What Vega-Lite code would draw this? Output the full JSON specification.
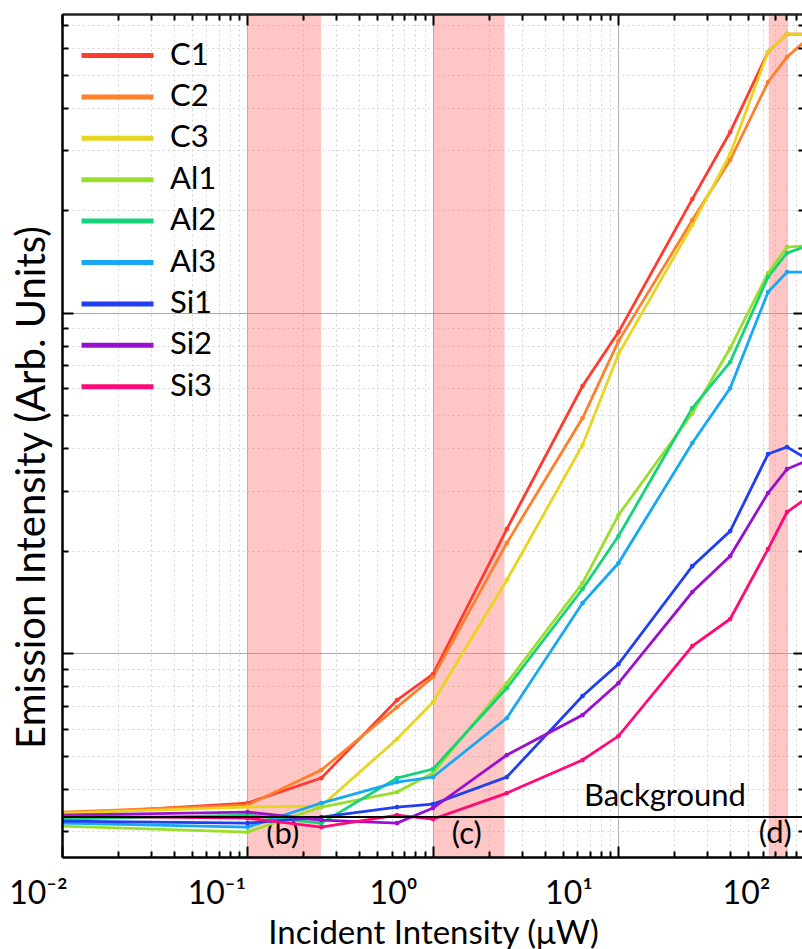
{
  "$schema": "https://vega.github.io/schema/vega-lite/v6.json",
  "width": 742,
  "height": 843,
  "autosize": {"type": "none"},
  "padding": {"left": 62, "top": 14, "right": 0, "bottom": 92},
  "background": "white",
  "config": {
    "view": {"stroke": null},
    "font": "Lato",
    "text": {"font": "Lato"}
  },
  "datasets": {
    "bands": [
      {"x1": 0.1, "x2": 0.249, "xc": 0.155, "yc": 0.292, "lab": "(b)"},
      {"x1": 1, "x2": 2.43, "xc": 1.52, "yc": 0.292, "lab": "(c)"},
      {"x1": 64.5, "x2": 82, "xc": 70, "yc": 0.295, "lab": "(d)"}
    ],
    "bg": [
      {"x1": 0.01, "x2": 100, "y": 0.3299, "xt": 17.8, "yt": 0.356, "lab": "Background"}
    ],
    "series": [
      {"s": "C1", "x": 0.01, "y": 0.3366}, {"s": "C1", "x": 0.1, "y": 0.3627}, {"s": "C1", "x": 0.25, "y": 0.4295}, {"s": "C1", "x": 0.64, "y": 0.7278}, {"s": "C1", "x": 1, "y": 0.8676}, {"s": "C1", "x": 2.5, "y": 2.313}, {"s": "C1", "x": 6.4, "y": 6.083}, {"s": "C1", "x": 10, "y": 8.763}, {"s": "C1", "x": 25, "y": 21.54}, {"s": "C1", "x": 40, "y": 33.89}, {"s": "C1", "x": 64, "y": 58.24}, {"s": "C1", "x": 81, "y": 65.75}, {"s": "C1", "x": 100, "y": 65.75},
      {"s": "C2", "x": 0.01, "y": 0.3412}, {"s": "C2", "x": 0.1, "y": 0.3578}, {"s": "C2", "x": 0.25, "y": 0.4533}, {"s": "C2", "x": 0.64, "y": 0.694}, {"s": "C2", "x": 1, "y": 0.85}, {"s": "C2", "x": 2.5, "y": 2.104}, {"s": "C2", "x": 6.4, "y": 4.899}, {"s": "C2", "x": 10, "y": 8.247}, {"s": "C2", "x": 25, "y": 18.69}, {"s": "C2", "x": 40, "y": 28.05}, {"s": "C2", "x": 64, "y": 47.53}, {"s": "C2", "x": 81, "y": 56.3}, {"s": "C2", "x": 100, "y": 62.29},
      {"s": "C3", "x": 0.01, "y": 0.3389}, {"s": "C3", "x": 0.1, "y": 0.353}, {"s": "C3", "x": 0.25, "y": 0.3554}, {"s": "C3", "x": 0.64, "y": 0.559}, {"s": "C3", "x": 1, "y": 0.718}, {"s": "C3", "x": 2.5, "y": 1.638}, {"s": "C3", "x": 6.4, "y": 4.083}, {"s": "C3", "x": 10, "y": 7.552}, {"s": "C3", "x": 25, "y": 18.07}, {"s": "C3", "x": 40, "y": 29.21}, {"s": "C3", "x": 64, "y": 58.24}, {"s": "C3", "x": 81, "y": 65.75}, {"s": "C3", "x": 100, "y": 65.75},
      {"s": "Al1", "x": 0.01, "y": 0.3103}, {"s": "Al1", "x": 0.1, "y": 0.298}, {"s": "Al1", "x": 0.25, "y": 0.353}, {"s": "Al1", "x": 0.64, "y": 0.3906}, {"s": "Al1", "x": 1, "y": 0.4443}, {"s": "Al1", "x": 2.5, "y": 0.8163}, {"s": "Al1", "x": 6.4, "y": 1.605}, {"s": "Al1", "x": 10, "y": 2.543}, {"s": "Al1", "x": 25, "y": 5.068}, {"s": "Al1", "x": 40, "y": 7.865}, {"s": "Al1", "x": 64, "y": 13.06}, {"s": "Al1", "x": 81, "y": 15.57}, {"s": "Al1", "x": 100, "y": 15.68},
      {"s": "Al2", "x": 0.01, "y": 0.3254}, {"s": "Al2", "x": 0.1, "y": 0.3343}, {"s": "Al2", "x": 0.25, "y": 0.3166}, {"s": "Al2", "x": 0.64, "y": 0.4295}, {"s": "Al2", "x": 1, "y": 0.4564}, {"s": "Al2", "x": 2.5, "y": 0.7893}, {"s": "Al2", "x": 6.4, "y": 1.542}, {"s": "Al2", "x": 10, "y": 2.206}, {"s": "Al2", "x": 25, "y": 5.242}, {"s": "Al2", "x": 40, "y": 7.155}, {"s": "Al2", "x": 64, "y": 12.72}, {"s": "Al2", "x": 81, "y": 14.96}, {"s": "Al2", "x": 100, "y": 15.57},
      {"s": "Al3", "x": 0.01, "y": 0.3166}, {"s": "Al3", "x": 0.1, "y": 0.3083}, {"s": "Al3", "x": 0.25, "y": 0.3627}, {"s": "Al3", "x": 0.64, "y": 0.418}, {"s": "Al3", "x": 1, "y": 0.4324}, {"s": "Al3", "x": 2.5, "y": 0.6442}, {"s": "Al3", "x": 6.4, "y": 1.402}, {"s": "Al3", "x": 10, "y": 1.838}, {"s": "Al3", "x": 25, "y": 4.138}, {"s": "Al3", "x": 40, "y": 6.002}, {"s": "Al3", "x": 64, "y": 11.49}, {"s": "Al3", "x": 81, "y": 13.15}, {"s": "Al3", "x": 100, "y": 13.15},
      {"s": "Si1", "x": 0.01, "y": 0.321}, {"s": "Si1", "x": 0.1, "y": 0.3166}, {"s": "Si1", "x": 0.25, "y": 0.3299}, {"s": "Si1", "x": 0.64, "y": 0.353}, {"s": "Si1", "x": 1, "y": 0.3602}, {"s": "Si1", "x": 2.5, "y": 0.4324}, {"s": "Si1", "x": 6.4, "y": 0.7478}, {"s": "Si1", "x": 10, "y": 0.9283}, {"s": "Si1", "x": 25, "y": 1.8}, {"s": "Si1", "x": 40, "y": 2.282}, {"s": "Si1", "x": 64, "y": 3.841}, {"s": "Si1", "x": 81, "y": 4.027}, {"s": "Si1", "x": 100, "y": 3.764},
      {"s": "Si2", "x": 0.01, "y": 0.3343}, {"s": "Si2", "x": 0.1, "y": 0.3412}, {"s": "Si2", "x": 0.25, "y": 0.3232}, {"s": "Si2", "x": 0.64, "y": 0.3166}, {"s": "Si2", "x": 1, "y": 0.3506}, {"s": "Si2", "x": 2.5, "y": 0.5017}, {"s": "Si2", "x": 6.4, "y": 0.6577}, {"s": "Si2", "x": 10, "y": 0.8163}, {"s": "Si2", "x": 25, "y": 1.511}, {"s": "Si2", "x": 40, "y": 1.927}, {"s": "Si2", "x": 64, "y": 2.951}, {"s": "Si2", "x": 81, "y": 3.47}, {"s": "Si2", "x": 100, "y": 3.639},
      {"s": "Si3", "x": 0.01, "y": 0.3321}, {"s": "Si3", "x": 0.1, "y": 0.3276}, {"s": "Si3", "x": 0.25, "y": 0.3083}, {"s": "Si3", "x": 0.64, "y": 0.3343}, {"s": "Si3", "x": 1, "y": 0.3254}, {"s": "Si3", "x": 2.5, "y": 0.3879}, {"s": "Si3", "x": 6.4, "y": 0.4851}, {"s": "Si3", "x": 10, "y": 0.5705}, {"s": "Si3", "x": 25, "y": 1.048}, {"s": "Si3", "x": 40, "y": 1.259}, {"s": "Si3", "x": 64, "y": 2.02}, {"s": "Si3", "x": 81, "y": 2.595}, {"s": "Si3", "x": 100, "y": 2.814}
    ]
  },
  "layer": [
    {
      "data": {"name": "bands"},
      "mark": {"type": "rect", "fill": "#ff7070", "opacity": 0.4},
      "encoding": {
        "x": {"field": "x1", "type": "quantitative", "scale": {"type": "log", "domain": [0.01, 100]}, "axis": null},
        "x2": {"field": "x2"}
      }
    },
    {
      "data": {"name": "bands"},
      "mark": {"type": "text", "font": "Lato", "fontSize": 31, "baseline": "middle", "align": "center", "color": "black"},
      "encoding": {
        "x": {"field": "xc", "type": "quantitative", "scale": {"type": "log", "domain": [0.01, 100]},
          "axis": {"orient": "top", "labels": false, "grid": false, "title": null, "zindex": 1,
            "values": [0.01,0.02,0.03,0.04,0.05,0.06,0.07,0.08,0.09,0.1,0.2,0.3,0.4,0.5,0.6,0.7,0.8,0.9,1,2,3,4,5,6,7,8,9,10,20,30,40,50,60,70,80,90,100],
            "domainColor": "#222222", "domainWidth": 2.5, "tickColor": "black", "tickWidth": 2,
            "tickSize": {"condition": {"test": "datum.value==0.01||datum.value==0.1||datum.value==1||datum.value==10||datum.value==100", "value": -11}, "value": -6}}},
        "y": {"field": "yc", "type": "quantitative", "scale": {"type": "log", "domain": [0.2518, 75.29]},
          "axis": {"orient": "right", "labels": false, "grid": false, "title": null, "zindex": 1,
            "values": [0.3,0.4,0.5,0.6,0.7,0.8,0.9,1,2,3,4,5,6,7,8,9,10,20,30,40,50,60,70],
            "domainColor": "black", "domainWidth": 2.5, "tickColor": "black", "tickWidth": 2,
            "tickSize": {"condition": {"test": "datum.value==1||datum.value==10", "value": -11}, "value": -6}}},
        "text": {"field": "lab"}
      }
    },
    {
      "data": {"name": "series"},
      "mark": {"type": "line", "strokeWidth": 2.8},
      "encoding": {
        "x": {"field": "x", "type": "quantitative", "scale": {"type": "log", "domain": [0.01, 100]},
          "axis": {"orient": "bottom", "labels": false, "ticks": false, "domain": false, "title": null, "grid": true, "zindex": 0,
            "values": [0.01,0.02,0.03,0.04,0.05,0.06,0.07,0.08,0.09,0.1,0.2,0.3,0.4,0.5,0.6,0.7,0.8,0.9,1,2,3,4,5,6,7,8,9,10,20,30,40,50,60,70,80,90,100],
            "gridColor": {"condition": {"test": "datum.value==0.01||datum.value==0.1||datum.value==1||datum.value==10||datum.value==100", "value": "#b4b4b4"}, "value": "#d4d4d4"},
            "gridDash": {"condition": {"test": "datum.value==0.01||datum.value==0.1||datum.value==1||datum.value==10||datum.value==100", "value": []}, "value": [2, 3]},
            "gridWidth": 1}},
        "y": {"field": "y", "type": "quantitative", "scale": {"type": "log", "domain": [0.2518, 75.29]},
          "axis": {"orient": "left", "labels": false, "ticks": false, "domain": false, "title": null, "grid": true, "zindex": 0,
            "values": [0.3,0.4,0.5,0.6,0.7,0.8,0.9,1,2,3,4,5,6,7,8,9,10,20,30,40,50,60,70],
            "gridColor": {"condition": {"test": "datum.value==1||datum.value==10", "value": "#a8a8a8"}, "value": "#d4d4d4"},
            "gridDash": {"condition": {"test": "datum.value==1||datum.value==10", "value": []}, "value": [2, 3]},
            "gridWidth": 1}},
        "color": {"field": "s", "type": "nominal",
          "scale": {"domain": ["C1","C2","C3","Al1","Al2","Al3","Si1","Si2","Si3"],
                    "range": ["#ff3b30","#ff7f2a","#e8d520","#9ade2c","#14d37a","#16a8f4","#1f3ff0","#9b10d0","#ff0a78"]},
          "legend": {"orient": "none", "legendX": 40, "legendY": 26, "title": null, "padding": 0,
            "symbolType": "M-3,0H3", "symbolSize": 576, "symbolStrokeWidth": 5,
            "labelFont": "Lato", "labelFontSize": 31, "labelColor": "black", "labelOffset": 37, "rowPadding": 9.4,
            "symbolOpacity": 1}}
      }
    },
    {
      "data": {"name": "series"},
      "transform": [{"filter": "datum.x > 0.011 && datum.x < 99"}],
      "mark": {"type": "circle", "size": 22, "opacity": 1},
      "encoding": {
        "x": {"field": "x", "type": "quantitative", "scale": {"type": "log", "domain": [0.01, 100]}, "axis": null},
        "y": {"field": "y", "type": "quantitative", "scale": {"type": "log", "domain": [0.2518, 75.29]}, "axis": null},
        "color": {"field": "s", "type": "nominal", "legend": null}
      }
    },
    {
      "data": {"name": "bg"},
      "mark": {"type": "rule", "color": "black", "strokeWidth": 2},
      "encoding": {
        "x": {"field": "x1", "type": "quantitative", "scale": {"type": "log", "domain": [0.01, 100]},
          "axis": {"orient": "bottom", "grid": false, "zindex": 1,
            "values": [0.01,0.02,0.03,0.04,0.05,0.06,0.07,0.08,0.09,0.1,0.2,0.3,0.4,0.5,0.6,0.7,0.8,0.9,1,2,3,4,5,6,7,8,9,10,20,30,40,50,60,70,80,90,100],
            "labelExpr": "datum.value==0.01?'10⁻²':datum.value==0.1?'10⁻¹':datum.value==1?'10⁰':datum.value==10?'10¹':datum.value==100?'10²':''",
            "labelOverlap": false, "labelFlush": false, "labelBound": false,
            "labelFont": "Lato", "labelFontSize": 32, "labelColor": "black", "labelPadding": 47, "labelBaseline": "middle",
            "labelOffset": {"condition": [{"test": "datum.value==0.01", "value": -24}, {"test": "datum.value==0.1", "value": -31}, {"test": "datum.value==1", "value": -40}, {"test": "datum.value==10", "value": -50}], "value": -58},
            "domainColor": "black", "domainWidth": 2.5, "tickColor": "black", "tickWidth": 2,
            "tickSize": {"condition": {"test": "datum.value==0.01||datum.value==0.1||datum.value==1||datum.value==10||datum.value==100", "value": -11}, "value": -6},
            "title": "Incident Intensity (μW)", "titleFont": "Lato", "titleFontSize": 33, "titleFontWeight": "normal", "titleColor": "black", "titlePadding": 3}},
        "x2": {"field": "x2"},
        "y": {"field": "y", "type": "quantitative", "scale": {"type": "log", "domain": [0.2518, 75.29]},
          "axis": {"orient": "left", "grid": false, "labels": false, "zindex": 1,
            "values": [0.3,0.4,0.5,0.6,0.7,0.8,0.9,1,2,3,4,5,6,7,8,9,10,20,30,40,50,60,70],
            "domainColor": "black", "domainWidth": 2.5, "tickColor": "black", "tickWidth": 2,
            "tickSize": {"condition": {"test": "datum.value==1||datum.value==10", "value": -11}, "value": -6},
            "title": "Emission Intensity (Arb. Units)", "titleFont": "Lato", "titleFontSize": 40, "titleFontWeight": "normal", "titleColor": "black",
            "titleX": -30, "titleY": 473, "titleBaseline": "middle"}}
      }
    },
    {
      "data": {"name": "bg"},
      "mark": {"type": "text", "font": "Lato", "fontSize": 31, "align": "center", "baseline": "alphabetic", "color": "black"},
      "encoding": {
        "x": {"field": "xt", "type": "quantitative", "scale": {"type": "log", "domain": [0.01, 100]}, "axis": null},
        "y": {"field": "yt", "type": "quantitative", "scale": {"type": "log", "domain": [0.2518, 75.29]}, "axis": null},
        "text": {"field": "lab"}
      }
    }
  ],
  "resolve": {"axis": {"x": "independent", "y": "independent"}}
}
